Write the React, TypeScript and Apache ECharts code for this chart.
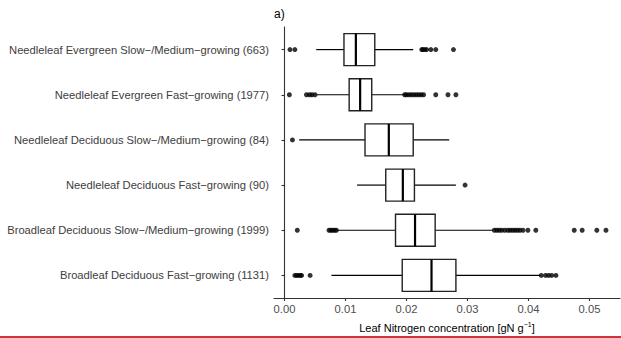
import React, { useEffect, useRef } from "react";
import * as echarts from "echarts";

const categories = [
  "Needleleaf Evergreen Slow−/Medium−growing (663)",
  "Needleleaf Evergreen Fast−growing (1977)",
  "Needleleaf Deciduous Slow−/Medium−growing (84)",
  "Needleleaf Deciduous Fast−growing (90)",
  "Broadleaf Deciduous Slow−/Medium−growing (1999)",
  "Broadleaf Deciduous Fast−growing (1131)",
];

// [whisker low, Q1, median, Q3, whisker high]
const boxStats = [
  [0.0052, 0.00975, 0.0117, 0.0148, 0.0211],
  [0.0053, 0.0106, 0.0124, 0.0143, 0.0196],
  [0.0024, 0.0132, 0.0171, 0.0211, 0.027],
  [0.0119, 0.0166, 0.0194, 0.0213, 0.0281],
  [0.0086, 0.0182, 0.0214, 0.0247, 0.0342],
  [0.0077, 0.0193, 0.0241, 0.0281, 0.0419],
];

const outliers = [
  [0.0009, 0.0017, 0.0225, 0.0227, 0.023, 0.0233, 0.024, 0.0248, 0.0277],
  [0.0008, 0.0036, 0.0041, 0.0045, 0.005, 0.0197, 0.02, 0.0204, 0.0208, 0.0212, 0.0216, 0.022, 0.0224, 0.0228, 0.0248, 0.0268, 0.0281],
  [0.0013],
  [0.0296],
  [0.0021, 0.0073, 0.0076, 0.0079, 0.0082, 0.0085, 0.0344, 0.0348, 0.0352, 0.0356, 0.0361, 0.0366, 0.037, 0.0374, 0.0378, 0.0382, 0.0386, 0.0391, 0.0399, 0.0412, 0.0475, 0.0488, 0.0512, 0.0527],
  [0.0017, 0.002, 0.0023, 0.0026, 0.0028, 0.0042, 0.0421, 0.0428, 0.0433, 0.0438, 0.0445],
];

const xTicks = [0, 0.01, 0.02, 0.03, 0.04, 0.05];

const FONT = "Liberation Sans, Arial, sans-serif";

export default function App() {
  const ref = useRef<HTMLDivElement>(null);
  useEffect(() => {
    document.body.style.margin = "0";
    const chart = echarts.init(ref.current!, null, { renderer: "svg" });
    const boxData = boxStats.map((s, i) => [i, ...s]);
    const outData: any[] = [];
    outliers.forEach((arr, i) => arr.forEach((v) => outData.push([v, i])));
    chart.setOption({
      animation: false,
      backgroundColor: "#ffffff",
      grid: { left: 274, right: 1, top: 27, bottom: 39 },
      xAxis: {
        type: "value",
        min: -0.00172,
        max: 0.055,
        splitLine: { show: false },
        axisLine: { show: true, lineStyle: { color: "#333", width: 1.1 } },
        axisTick: { show: true, length: 3, customValues: xTicks, lineStyle: { color: "#333", width: 1.1 } },
        axisLabel: {
          customValues: xTicks,
          formatter: (v: number) => v.toFixed(2),
          color: "#4d4d4d",
          fontFamily: FONT,
          fontSize: 11.2,
          margin: 5,
        },
        name: "Leaf Nitrogen concentration [gN g{sup|−1}]",
        nameLocation: "middle",
        nameGap: 23,
        nameTextStyle: {
          color: "#000",
          fontFamily: FONT,
          fontSize: 11,
          rich: {
            sup: { fontSize: 7, verticalAlign: "top", padding: [0, 0, 6, 0], color: "#000", fontFamily: FONT },
          },
        },
      },
      yAxis: {
        type: "category",
        data: categories,
        inverse: true,
        axisLine: { show: true, lineStyle: { color: "#333", width: 1.1 } },
        axisTick: { show: true, length: 3, alignWithLabel: true, lineStyle: { color: "#333", width: 1.1 } },
        axisLabel: { color: "#3d3d3d", fontFamily: FONT, fontSize: 11.2, margin: 5 },
        splitLine: { show: false },
      },
      series: [
        {
          type: "custom",
          data: boxData,
          encode: { x: [1, 2, 3, 4, 5], y: 0 },
          renderItem: (params: any, api: any) => {
            const c = api.value(0);
            const lo = api.coord([api.value(1), c]);
            const q1 = api.coord([api.value(2), c]);
            const med = api.coord([api.value(3), c]);
            const q3 = api.coord([api.value(4), c]);
            const hi = api.coord([api.value(5), c]);
            const h = 32;
            const y = q1[1];
            return {
              type: "group",
              children: [
                { type: "line", shape: { x1: lo[0], y1: y, x2: q1[0], y2: y }, style: { stroke: "#000", lineWidth: 1.2 } },
                { type: "line", shape: { x1: q3[0], y1: y, x2: hi[0], y2: y }, style: { stroke: "#000", lineWidth: 1.2 } },
                { type: "rect", shape: { x: q1[0], y: y - h / 2, width: q3[0] - q1[0], height: h }, style: { fill: "#fff", stroke: "#222", lineWidth: 1.4 } },
                { type: "line", shape: { x1: med[0], y1: y - h / 2, x2: med[0], y2: y + h / 2 }, style: { stroke: "#000", lineWidth: 2.2 } },
              ],
            };
          },
          z: 2,
        },
        {
          type: "scatter",
          data: outData,
          symbol: "circle",
          symbolSize: 5,
          itemStyle: { color: "#000" },
          z: 3,
        },
      ],
      graphic: [
        { type: "text", left: 274, top: 8, style: { text: "a)", fontFamily: FONT, fontSize: 12, fill: "#000" } },
        { type: "rect", left: 0, top: 336, shape: { width: 621, height: 2 }, style: { fill: "#d0343a" } },
      ],
    });
    return () => chart.dispose();
  }, []);
  return <div ref={ref} style={{ width: 621, height: 338 }} />;
}
